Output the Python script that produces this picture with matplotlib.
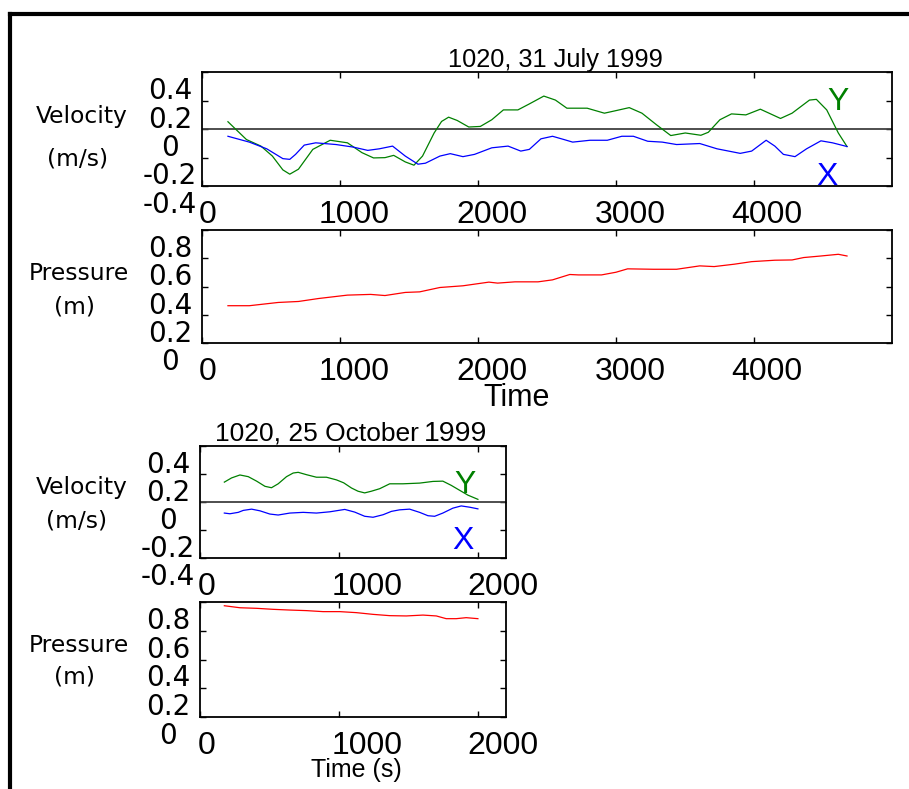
import matplotlib
matplotlib.use('Agg')
import matplotlib.pyplot as plt
from matplotlib.transforms import ScaledTranslation
from matplotlib.lines import Line2D

# ---------------- data ----------------
# 31 July 1999 – velocity Y (green)
t_jul_y = [188, 322, 427, 510, 586, 636, 699, 803, 929, 1054, 1159, 1243, 1326, 1389, 1473,
           1536, 1598, 1682, 1736, 1787, 1849, 1933, 2017, 2100, 2184, 2289, 2372, 2477, 2561,
           2644, 2791, 2916, 3000, 3096, 3188, 3293, 3397, 3502, 3615, 3669, 3753, 3837, 3941,
           4046, 4109, 4192, 4276, 4402, 4452, 4527, 4611, 4674]
v_jul_y = [0.051, -0.074, -0.12, -0.19, -0.287, -0.317, -0.282, -0.143, -0.079, -0.097, -0.166,
           -0.203, -0.201, -0.185, -0.231, -0.254, -0.19, -0.028, 0.053, 0.083, 0.06, 0.014,
           0.018, 0.065, 0.134, 0.134, 0.176, 0.231, 0.203, 0.146, 0.146, 0.111, 0.129, 0.150,
           0.111, 0.03, -0.046, -0.028, -0.044, -0.023, 0.065, 0.106, 0.099, 0.139, 0.111,
           0.074, 0.111, 0.203, 0.208, 0.134, -0.028, -0.123]
# 31 July 1999 – velocity X (blue)
t_jul_x = [188, 343, 469, 586, 636, 678, 741, 824, 971, 1096, 1201, 1285, 1381, 1473, 1565,
           1619, 1724, 1799, 1891, 1975, 2100, 2218, 2310, 2372, 2456, 2540, 2623, 2686, 2812,
           2937, 3042, 3126, 3230, 3335, 3439, 3607, 3732, 3900, 3983, 4088, 4151, 4213, 4297,
           4381, 4485, 4569, 4674]
v_jul_x = [-0.051, -0.092, -0.139, -0.208, -0.213, -0.178, -0.113, -0.097, -0.109, -0.127,
           -0.150, -0.139, -0.120, -0.190, -0.247, -0.240, -0.190, -0.173, -0.194, -0.178,
           -0.132, -0.120, -0.155, -0.143, -0.069, -0.051, -0.074, -0.092, -0.079, -0.079,
           -0.051, -0.051, -0.086, -0.092, -0.109, -0.102, -0.139, -0.171, -0.155, -0.079,
           -0.120, -0.178, -0.194, -0.139, -0.083, -0.097, -0.123]
# 31 July 1999 – pressure (red)
t_jul_p = [188, 343, 552, 699, 845, 1054, 1222, 1326, 1473, 1577, 1724, 1891, 2079, 2142, 2268,
           2435, 2540, 2665, 2728, 2895, 3000, 3084, 3272, 3439, 3607, 3711, 3858, 3983, 4151,
           4276, 4360, 4485, 4611, 4674]
p_jul = [0.264, 0.264, 0.287, 0.294, 0.315, 0.339, 0.344, 0.336, 0.358, 0.362, 0.393, 0.405,
         0.431, 0.424, 0.433, 0.433, 0.447, 0.485, 0.482, 0.482, 0.501, 0.525, 0.522, 0.522,
         0.546, 0.541, 0.558, 0.576, 0.586, 0.588, 0.605, 0.616, 0.628, 0.616]

# 25 October 1999 – velocity Y (green)
t_oct_y = [175, 227, 287, 347, 407, 467, 514, 562, 622, 670, 706, 766, 837, 909, 981, 1033,
           1089, 1136, 1184, 1232, 1292, 1364, 1459, 1579, 1675, 1746, 1806, 1866, 1926, 1998]
v_oct_y = [0.142, 0.172, 0.193, 0.181, 0.149, 0.112, 0.102, 0.130, 0.181, 0.207, 0.212, 0.195,
           0.177, 0.177, 0.158, 0.137, 0.100, 0.077, 0.065, 0.077, 0.095, 0.130, 0.130, 0.135,
           0.147, 0.149, 0.119, 0.084, 0.049, 0.019]
# 25 October 1999 – velocity X (blue)
t_oct_x = [175, 215, 275, 311, 371, 431, 502, 562, 646, 742, 837, 933, 1041, 1112, 1184, 1244,
           1316, 1376, 1435, 1507, 1579, 1639, 1687, 1746, 1818, 1878, 1938, 1998]
v_oct_x = [-0.079, -0.084, -0.074, -0.060, -0.051, -0.063, -0.086, -0.093, -0.079, -0.074,
           -0.079, -0.070, -0.053, -0.072, -0.102, -0.109, -0.091, -0.067, -0.056, -0.051,
           -0.074, -0.098, -0.102, -0.079, -0.044, -0.028, -0.037, -0.049]
# 25 October 1999 – pressure (red)
t_oct_p = [175, 287, 407, 526, 646, 766, 885, 1005, 1124, 1244, 1364, 1483, 1603, 1699, 1770,
           1842, 1914, 1998]
p_oct = [0.774, 0.760, 0.756, 0.749, 0.744, 0.740, 0.733, 0.733, 0.726, 0.714, 0.705, 0.703,
         0.709, 0.703, 0.684, 0.684, 0.691, 0.684]

xt_jul = [0, 1000, 2000, 3000, 4000]
xt_oct = [0, 1000, 2000]
vel_ticks = [0.4, 0.2, 0, -0.2, -0.4]
vel_labels = ['0.4', '0.2', '0', '-0.2', '-0.4']
pres_ticks = [0.8, 0.6, 0.4, 0.2, 0]
pres_labels = ['0.8', '0.6', '0.4', '0.2', '0']

# ---------------- figure ----------------
W, H = 909, 789
fig = plt.figure(figsize=(W / 100, H / 100), dpi=100)
fig.patch.set_facecolor('white')

GREEN = '#008000'
BLUE = '#0000ff'
RED = '#ff0000'
XF = 'Liberation Sans'
YF = 'DejaVu Sans'


def box(l, t, r, b):
    return [l / W, 1 - b / H, (r - l) / W, (b - t) / H]


def fx(x):
    return x / W


def fy(y):
    return 1 - y / H


def style(ax, xlim, ylim, xticks, yticks, ylabels, xoffs):
    ax.set_xlim(xlim)
    ax.set_ylim(ylim)
    ax.set_xticks(xticks)
    ax.set_xticklabels([str(v) for v in xticks], fontfamily=XF, fontsize=23)
    ax.set_yticks(yticks)
    ax.set_yticklabels(ylabels, fontfamily=YF, fontsize=20, ha='center')
    ax.tick_params(direction='in', length=4.3, width=1, top=True, right=True, colors='k')
    ax.tick_params(axis='y', pad=23)
    ax.tick_params(axis='x', pad=10)
    for sp in ax.spines.values():
        sp.set_linewidth(1.3)
    for lab, dx in zip(ax.get_xticklabels(), xoffs):
        lab.set_transform(lab.get_transform() + ScaledTranslation(dx / 100, 0, fig.dpi_scale_trans))
    for lab in ax.get_yticklabels():
        lab.set_transform(lab.get_transform() + ScaledTranslation(0, -16 / 100, fig.dpi_scale_trans))


# top velocity
ax1 = fig.add_axes(box(202, 72, 892, 186))
ax1.axhline(0, color='0.25', lw=1.3)
ax1.plot(t_jul_y, v_jul_y, color=GREEN, lw=0.9)
ax1.plot(t_jul_x, v_jul_x, color=BLUE, lw=0.9)
style(ax1, (0, 5000), (-0.4, 0.4), xt_jul, vel_ticks, vel_labels, [6, 14, 14, 14, 13])

# top pressure
ax2 = fig.add_axes(box(202, 230, 892, 343))
ax2.plot(t_jul_p, p_jul, color=RED, lw=0.9)
style(ax2, (0, 5000), (0, 0.8), xt_jul, pres_ticks, pres_labels, [6, 14, 14, 14, 13])

# bottom velocity
ax3 = fig.add_axes(box(200, 446, 506, 558))
ax3.axhline(0, color='0.25', lw=1.3)
ax3.plot(t_oct_y, v_oct_y, color=GREEN, lw=0.9)
ax3.plot(t_oct_x, v_oct_x, color=BLUE, lw=0.9)
style(ax3, (0, 2200), (-0.4, 0.4), xt_oct, vel_ticks, vel_labels, [7, 28, 25])

# bottom pressure
ax4 = fig.add_axes(box(200, 602, 506, 717))
ax4.plot(t_oct_p, p_oct, color=RED, lw=0.9)
style(ax4, (0, 2200), (0, 0.8), xt_oct, pres_ticks, pres_labels, [7, 28, 25])

# titles
fig.text(fx(555), fy(67), '1020, 31 July 1999', family=XF, fontsize=18.3,
         ha='center', va='baseline')
fig.text(fx(215), fy(441), '1020, 25 October', family=XF, fontsize=19,
         ha='left', va='baseline')
fig.text(fx(487), fy(441), '1999', family=XF, fontsize=20.5,
         ha='right', va='baseline')

# series labels
fig.text(fx(838), fy(110), 'Y', color=GREEN, family=XF, fontsize=23, ha='center', va='baseline')
fig.text(fx(827), fy(185), 'X', color=BLUE, family=XF, fontsize=23, ha='center', va='baseline')
fig.text(fx(465), fy(493), 'Y', color=GREEN, family=XF, fontsize=23, ha='center', va='baseline')
fig.text(fx(463), fy(549), 'X', color=BLUE, family=XF, fontsize=23, ha='center', va='baseline')

# y-axis labels
for (x, y, s) in [(82, 123, 'Velocity'), (78, 165, '(m/s)'),
                  (79, 280, 'Pressure'), (74, 313, '(m)'),
                  (82, 494, 'Velocity'), (77, 528, '(m/s)'),
                  (79, 652, 'Pressure'), (74, 684, '(m)')]:
    fig.text(fx(x), fy(y), s, family=YF, fontsize=16.8, ha='center', va='baseline')

# x-axis labels
fig.text(fx(517), fy(406), 'Time', family=XF, fontsize=22, ha='center', va='baseline')
fig.text(fx(356), fy(777), 'Time (s)', family=XF, fontsize=18, ha='center', va='baseline')

# outer frame (left and top edges)
fig.add_artist(Line2D([fx(10), fx(10)], [fy(13.5), 0], color='k', lw=3,
                      transform=fig.transFigure, solid_capstyle='projecting'))
fig.add_artist(Line2D([fx(10), 1], [fy(13.5), fy(13.5)], color='k', lw=3,
                      transform=fig.transFigure, solid_capstyle='projecting'))

fig.savefig('out.png', dpi=100)
